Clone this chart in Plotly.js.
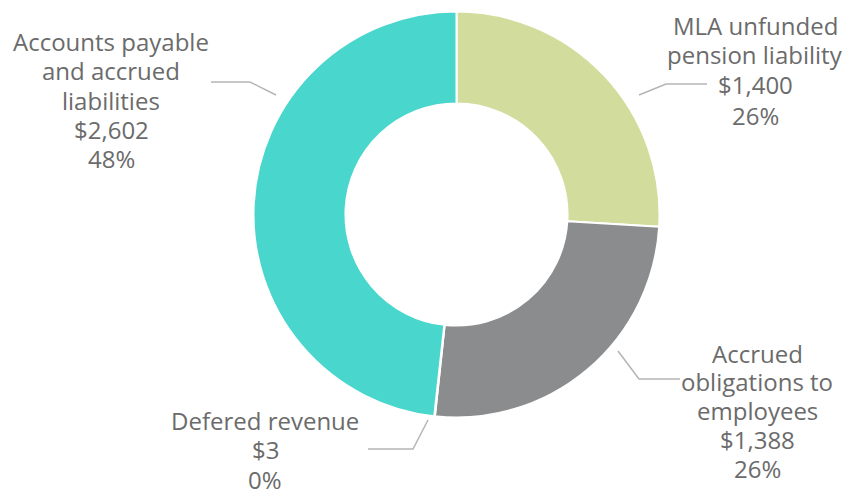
<!DOCTYPE html>
<html>
<head>
<meta charset="utf-8">
<script src="https://cdn.plot.ly/plotly-3.0.1.min.js"></script>
<style>html,body{margin:0;padding:0;background:#fff;}#chart{width:848px;height:489px;}</style>
</head>
<body>
<div id="chart"></div>
<script>
// Data
const categories = ["MLA unfunded pension liability", "Accrued obligations to employees", "Defered revenue", "Accounts payable and accrued liabilities"];
const values = [1400, 1388, 3, 2602];
const colors = ["#d2dc9c", "#8b8c8e", "#a9a9a9", "#49d6cd"];
const labelLines = [
  ["MLA unfunded", "pension liability", "$1,400", "26%"],
  ["Accrued", "obligations to", "employees", "$1,388", "26%"],
  ["Defered revenue", "$3", "0%"],
  ["Accounts payable", "and accrued", "liabilities", "$2,602", "48%"]
];

const W = 848, H = 489;
const px = x => x / W;
const py = y => 1 - y / H;

// label layout: text centre x, first line y, line step, leader line points (pixels)
const labelPos = [
  {x: 755, y0: 25, step: 30, line: [[639, 95], [666, 84], [707, 84]]},
  {x: 757, y0: 353, step: 28.8, line: [[618, 351], [639, 379], [680, 379]]},
  {x: 265, y0: 420, step: 29.5, line: [[428, 420], [413, 449], [368, 449]]},
  {x: 111, y0: 42, step: 29, line: [[276, 95], [250, 82], [211, 82]]}
];

const annotations = [];
labelLines.forEach((lines, i) => {
  const p = labelPos[i];
  lines.forEach((t, k) => {
    annotations.push({
      xref: "paper", yref: "paper",
      x: px(p.x), y: py(p.y0 + k * p.step),
      xanchor: "center", yanchor: "middle",
      text: t,
      showarrow: false,
      font: {family: "Open Sans, Noto Sans, sans-serif", size: 24, color: "#6b6b6b"}
    });
  });
});

const shapes = labelPos.map(p => ({
  type: "path",
  xref: "paper", yref: "paper",
  path: "M " + p.line.map(pt => px(pt[0]) + "," + py(pt[1])).join(" L "),
  line: {color: "#b5b5b8", width: 1.5}
}));

const trace = {
  type: "pie",
  labels: categories,
  values: values,
  sort: false,
  direction: "clockwise",
  rotation: 0,
  hole: 0.547,
  textinfo: "none",
  hoverinfo: "label+value+percent",
  marker: {colors: colors, line: {color: "#ffffff", width: 2}},
  domain: {x: [px(253.5), px(659.5)], y: [py(417.5), py(11.5)]},
  showlegend: false
};

Plotly.newPlot("chart", [trace], {
  width: W, height: H,
  margin: {l: 0, r: 0, t: 0, b: 0},
  paper_bgcolor: "#ffffff",
  plot_bgcolor: "#ffffff",
  annotations: annotations,
  shapes: shapes,
  showlegend: false
}, {displayModeBar: false, staticPlot: true});
</script>
</body>
</html>
